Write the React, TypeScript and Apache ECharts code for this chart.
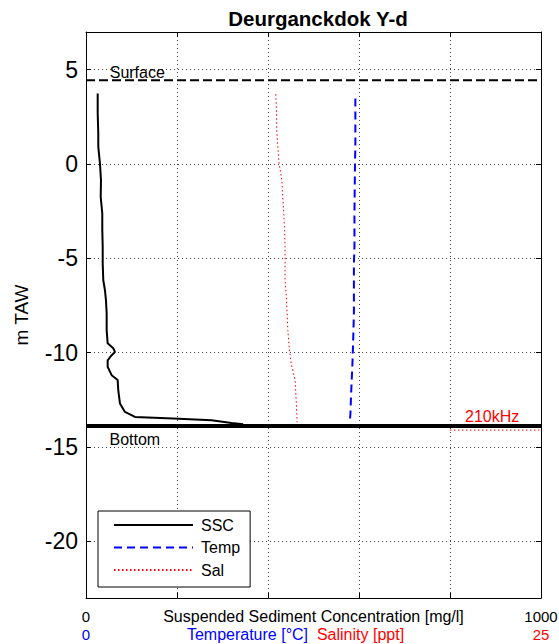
import React, { useEffect, useRef } from "react";
import * as echarts from "echarts";

// ---- data (depth in m TAW) ----
const sscDepth = [3.74, 2.68, 1.62, 0.91, 0.03, -0.86, -1.74, -2.62, -3.51, -4.39, -5.27, -6.16, -6.69, -7.22, -7.91, -8.81, -9.5, -9.76, -9.96, -10.13, -10.4, -10.75, -11.19, -11.45, -11.98, -12.69, -13.14, -13.4, -13.49, -13.58, -13.72, -13.79];
const sscValue = [25.7, 25.7, 27.0, 27.0, 30.7, 32.9, 32.3, 35.8, 35.8, 36.7, 36.7, 38.0, 41.7, 43.9, 45.4, 45.4, 47.6, 59.9, 63.7, 56.4, 47.6, 47.6, 56.4, 69.6, 70.9, 74.6, 85.6, 107.6, 191.6, 275.9, 319.8, 345.3];

const tempDepth = [3.47, 2.68, 0.91, 0.03, -1.74, -2.62, -4.39, -5.27, -6.16, -7.91, -9.69, -10.56, -11.45, -12.34, -13.21, -13.74];
const tempValue = [14.8, 14.8, 14.8, 14.78, 14.76, 14.75, 14.75, 14.72, 14.72, 14.72, 14.67, 14.64, 14.6, 14.56, 14.53, 14.49];

const salDepth = [3.7, 2.68, 1.79, 0.91, 0.03, -0.86, -1.74, -2.62, -3.51, -4.39, -5.27, -6.16, -7.04, -7.91, -8.81, -9.69, -10.56, -11.45, -12.34, -13.21, -13.67];
const salValue = [10.43, 10.47, 10.48, 10.54, 10.61, 10.76, 10.81, 10.87, 10.91, 10.94, 10.94, 10.94, 11.01, 11.05, 11.09, 11.16, 11.27, 11.49, 11.54, 11.58, 11.6];

const surfaceLevel = 4.44;
const bottomLevel = -13.88;
const echoLevel = -14.1; // 210kHz bottom
const echoRange = [800, 1000];

const sscRange = [0, 1000];
const tsRange = [0, 25];
const depthRange = [-23, 7];

const annotations: [number, number, string, string][] = [
  [51, 4.83, "Surface", "#000000"],
  [50.5, -14.6, "Bottom", "#000000"],
  [832, -13.4, "210kHz", "#ff0000"],
];

const FONT = "'Liberation Sans', Arial, Helvetica, sans-serif";

export default function App() {
  const ref = useRef<HTMLDivElement>(null);
  useEffect(() => {
    if (!ref.current) return;
    const chart = echarts.init(ref.current, undefined, { renderer: "svg" });
    const zip = (xs: number[], ys: number[]) => xs.map((x, i) => [x, ys[i]]);
    const gridLine = { show: true, lineStyle: { color: "#444", width: 1, type: [1, 3] as any } };
    chart.setOption({
      animation: false,
      textStyle: { fontFamily: FONT },
      title: {
        text: "Deurganckdok Y-d",
        left: 313,
        textAlign: "center",
        top: 3,
        textStyle: { fontFamily: FONT, fontWeight: "bold", fontSize: 20.5, color: "#000" },
      },
      grid: { left: 86, top: 32, width: 455, height: 566, containLabel: false, outerBoundsMode: "none" },
      legend: {
        data: ["SSC", "Temp", "Sal"],
        orient: "vertical",
        left: 98,
        top: 511,
        padding: [5, 10, 8, 15],
        itemWidth: 79,
        itemHeight: 14,
        itemGap: 4.5,
        backgroundColor: "#fff",
        borderColor: "#000",
        borderWidth: 1,
        borderRadius: 0,
        itemStyle: { opacity: 0 },
        textStyle: { fontFamily: FONT, fontSize: 16, color: "#000", lineHeight: 18, padding: [0, 0, 0, 3] },
      },
      xAxis: [
        {
          type: "value",
          min: sscRange[0],
          max: sscRange[1],
          interval: 200,
          position: "bottom",
          axisLine: { show: true, onZero: false, lineStyle: { color: "#000", width: 1 } },
          axisTick: { show: true, inside: true, length: 5, lineStyle: { color: "#000" } },
          axisLabel: {
            margin: 11,
            fontSize: 15,
            color: "#000",
            fontFamily: FONT,
            formatter: (v: number) => (v === sscRange[0] || v === sscRange[1] ? String(v) : ""),
          },
          splitLine: gridLine,
          name: "Suspended Sediment Concentration [mg/l]",
          nameLocation: "middle",
          nameGap: 10,
          nameMoveOverlap: false,
          nameTextStyle: { fontFamily: FONT, fontSize: 16, color: "#000" },
        },
        {
          type: "value",
          min: tsRange[0],
          max: tsRange[1],
          interval: 5,
          position: "bottom",
          offset: 18,
          axisLine: { show: false, onZero: false },
          axisTick: { show: false },
          splitLine: { show: false },
          axisLabel: {
            margin: 11,
            fontSize: 15,
            fontFamily: FONT,
            formatter: (v: number) =>
              v === tsRange[0] ? "{b|" + v + "}" : v === tsRange[1] ? "{r|" + v + "}" : "",
            rich: {
              b: { color: "#0000ff", fontSize: 15, fontFamily: FONT },
              r: { color: "#ff0000", fontSize: 15, fontFamily: FONT },
            },
          },
          name: "{t|Temperature [°C]}  {s|Salinity [ppt]}",
          nameLocation: "middle",
          nameGap: 10,
          nameMoveOverlap: false,
          nameTextStyle: {
            fontFamily: FONT,
            fontSize: 16,
            padding: [0, 36, 0, 0],
            rich: {
              t: { color: "#0000ff", fontSize: 16, fontFamily: FONT },
              s: { color: "#ff0000", fontSize: 16, fontFamily: FONT },
            },
          },
        },
        {
          type: "value",
          min: sscRange[0],
          max: sscRange[1],
          interval: 200,
          position: "top",
          axisLine: { show: true, onZero: false, lineStyle: { color: "#000", width: 1 } },
          axisTick: { show: true, inside: true, length: 5, lineStyle: { color: "#000" } },
          axisLabel: { show: false },
          splitLine: { show: false },
        },
      ],
      yAxis: [
        {
          type: "value",
          min: depthRange[0],
          max: depthRange[1],
          splitNumber: 6,
          position: "left",
          axisLine: { show: true, onZero: false, lineStyle: { color: "#000", width: 1 } },
          axisTick: { show: true, inside: true, length: 5, lineStyle: { color: "#000" } },
          axisLabel: {
            margin: 8,
            fontSize: 23,
            color: "#000",
            fontFamily: FONT,
            showMinLabel: false,
            showMaxLabel: false,
            formatter: (v: number) => (Math.abs(v % 5) < 1e-9 ? String(v) : ""),
          },
          splitLine: gridLine,
          name: "m TAW",
          nameLocation: "middle",
          nameGap: 55,
          nameMoveOverlap: false,
          nameTextStyle: { fontFamily: FONT, fontSize: 19, color: "#000" },
        },
        {
          type: "value",
          min: depthRange[0],
          max: depthRange[1],
          splitNumber: 6,
          position: "right",
          axisLine: { show: true, onZero: false, lineStyle: { color: "#000", width: 1 } },
          axisTick: { show: true, inside: true, length: 5, lineStyle: { color: "#000" } },
          axisLabel: { show: false },
          splitLine: { show: false },
        },
      ],
      series: [
        {
          name: "surface",
          type: "line",
          xAxisIndex: 0,
          yAxisIndex: 0,
          symbol: "none",
          silent: true,
          data: [[sscRange[0], surfaceLevel], [sscRange[1], surfaceLevel]],
          lineStyle: { color: "#000", width: 2, type: [9, 4] },
        },
        {
          name: "echo",
          type: "line",
          xAxisIndex: 0,
          yAxisIndex: 0,
          symbol: "none",
          silent: true,
          data: [[echoRange[0], echoLevel], [echoRange[1], echoLevel]],
          lineStyle: { color: "#ff0000", width: 1, type: [1.5, 2.5] },
        },
        {
          name: "bottom",
          type: "line",
          xAxisIndex: 0,
          yAxisIndex: 0,
          symbol: "none",
          silent: true,
          data: [[sscRange[0], bottomLevel], [sscRange[1], bottomLevel]],
          lineStyle: { color: "#000", width: 4, type: "solid" },
        },
        {
          name: "SSC",
          type: "line",
          xAxisIndex: 0,
          yAxisIndex: 0,
          symbol: "none",
          data: zip(sscValue, sscDepth),
          color: "#000",
          lineStyle: { color: "#000", width: 2, type: "solid" },
        },
        {
          name: "Temp",
          type: "line",
          xAxisIndex: 1,
          yAxisIndex: 0,
          symbol: "none",
          data: zip(tempValue, tempDepth),
          color: "#0000ff",
          lineStyle: { color: "#0000ff", width: 2, type: [8, 5] },
        },
        {
          name: "Sal",
          type: "line",
          xAxisIndex: 1,
          yAxisIndex: 0,
          symbol: "none",
          data: zip(salValue, salDepth),
          color: "#ff0000",
          lineStyle: { color: "#ff0000", width: 1, type: [1.5, 2.5] },
        },
        {
          name: "labels",
          type: "scatter",
          xAxisIndex: 0,
          yAxisIndex: 0,
          symbolSize: 1,
          silent: true,
          z: 10,
          itemStyle: { color: "rgba(0,0,0,0)" },
          data: annotations.map((a) => ({
            value: [a[0], a[1]],
            name: a[2],
            label: {
              show: true,
              position: "right",
              distance: 0,
              formatter: a[2],
              color: a[3],
              opacity: 1,
              fontSize: 16,
              fontFamily: FONT,
            },
          })),
        },
      ],
    });
    return () => chart.dispose();
  }, []);
  return (
    <div
      ref={ref}
      style={{ position: "fixed", left: 0, top: 0, width: 559, height: 644, background: "#fff" }}
    />
  );
}
